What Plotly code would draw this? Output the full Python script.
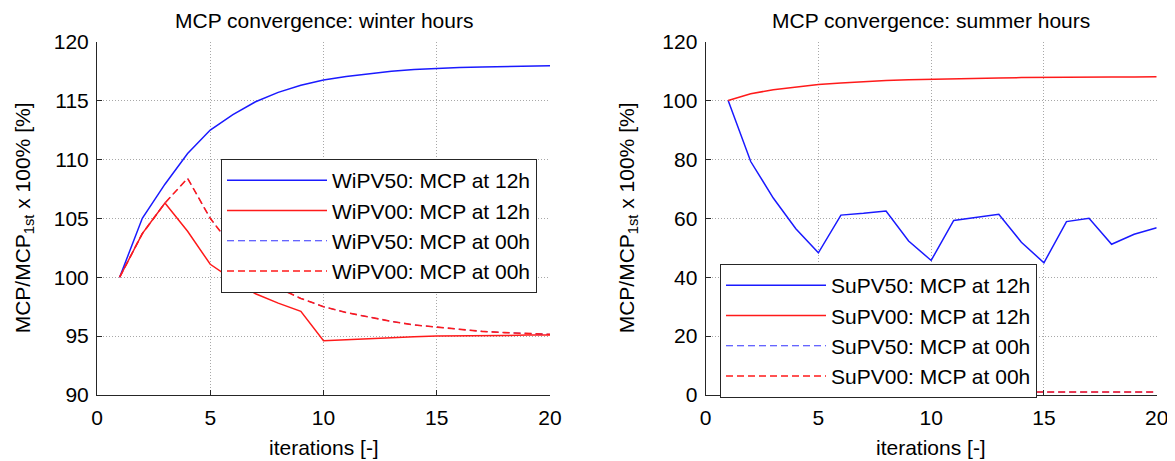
import plotly.graph_objects as go

# page body adds an 8px margin; figure is sized so the picture fits the window
OFF = 8
W, H = 1175 - OFF, 461 - OFF

iterations = list(range(1, 21))

# Winter hours
wi_pv50_12h = [100, 105.0, 107.9, 110.5, 112.5, 113.8, 114.9, 115.7, 116.3, 116.75,
               117.05, 117.3, 117.5, 117.65, 117.75, 117.8, 117.85, 117.9, 117.9, 117.95]
wi_pv00_12h = [100, 103.7, 106.3, 103.9, 101.1, 99.8, 98.6, 97.8, 97.1, 94.6,
               94.7, 94.8, 94.9, 94.95, 95.0, 95.0, 95.05, 95.05, 95.1, 95.1]
wi_pv50_00h = [100, 103.7, 106.3, 108.4, 105.0, 102.5, 100.5, 99.1, 98.2, 97.5,
               97.0, 96.6, 96.25, 95.95, 95.75, 95.55, 95.4, 95.3, 95.2, 95.15]
wi_pv00_00h = [100, 103.7, 106.3, 108.4, 105.0, 102.5, 100.5, 99.1, 98.2, 97.5,
               97.0, 96.6, 96.25, 95.95, 95.75, 95.55, 95.4, 95.3, 95.2, 95.15]

# Summer hours
su_pv50_12h = [100, 79.3, 66.9, 56.5, 48.3, 61.1, 61.7, 62.5, 52.3, 45.7,
               59.3, 60.3, 61.4, 51.9, 44.9, 58.9, 60.0, 51.2, 54.6, 56.8]
su_pv00_12h = [100, 102.3, 103.7, 104.7, 105.5, 106.0, 106.5, 106.8, 107.1, 107.3,
               107.5, 107.6, 107.7, 107.8, 107.9, 107.95, 108.0, 108.0, 108.05, 108.1]
su_pv50_00h = [1.0, 1.0, 1.0, 1.0, 1.0, 1.0, 1.0, 1.0, 1.0, 1.0,
               1.0, 1.0, 1.0, 1.0, 1.0, 1.0, 1.0, 1.0, 1.0, 1.0]
su_pv00_00h = [1.0, 1.0, 1.0, 1.0, 1.0, 1.0, 1.0, 1.0, 1.0, 1.0,
               1.0, 1.0, 1.0, 1.0, 1.0, 1.0, 1.0, 1.0, 1.0, 1.0]

titles = ["MCP convergence: winter hours", "MCP convergence: summer hours"]
x_title = "iterations [-]"
y_title = "MCP/MCP<sub>1st</sub> x 100% [%]"

BLUE = "#1a1aff"
RED = "#ff1a1a"
DASH = "7px,4px"
FONT = "Liberation Sans, Arial, sans-serif"
FS = 21

fig = go.Figure()

def add(x, y, name, color, dash, width, xa, ya, leg, grp):
    fig.add_trace(go.Scatter(
        x=x, y=y, mode="lines", name=name,
        line=dict(color=color, width=width, dash=dash),
        xaxis=xa, yaxis=ya, legend=leg, legendgroup=grp,
    ))

add(iterations, wi_pv50_12h, "WiPV50: MCP at 12h", BLUE, "solid", 1.5, "x", "y", "legend", "a1")
add(iterations, wi_pv00_12h, "WiPV00: MCP at 12h", RED, "solid", 1.5, "x", "y", "legend", "a2")
add(iterations, wi_pv50_00h, "WiPV50: MCP at 00h", BLUE, DASH, 0.9, "x", "y", "legend", "a3")
add(iterations, wi_pv00_00h, "WiPV00: MCP at 00h", RED, DASH, 1.6, "x", "y", "legend", "a4")

add(iterations, su_pv50_12h, "SuPV50: MCP at 12h", BLUE, "solid", 1.5, "x2", "y2", "legend2", "b1")
add(iterations, su_pv00_12h, "SuPV00: MCP at 12h", RED, "solid", 1.5, "x2", "y2", "legend2", "b2")
add(iterations, su_pv50_00h, "SuPV50: MCP at 00h", BLUE, DASH, 0.9, "x2", "y2", "legend2", "b3")
add(iterations, su_pv00_00h, "SuPV00: MCP at 00h", RED, DASH, 1.6, "x2", "y2", "legend2", "b4")

def px_x(p):
    return (p - OFF) / W

def px_y(p):
    return 1 - (p - OFF) / H

top, bot = 41.7, 395.0
L1, R1 = 97.0, 550.0
L2, R2 = 705.6, 1156.7

axis_common = dict(
    showline=True, linecolor="#262626", linewidth=1,
    ticks="inside", ticklen=5, tickcolor="#262626", tickwidth=1,
    showgrid=True, gridcolor="#a8a8a8", griddash="1px,2px", gridwidth=1,
    zeroline=False, mirror=False, automargin=False,
    tickfont=dict(family=FONT, size=FS, color="#000000"),
)

legend_common = dict(
    xanchor="right", yanchor="top",
    bgcolor="white", bordercolor="#262626", borderwidth=1,
    font=dict(family=FONT, size=21, color="#000000"),
    tracegroupgap=0, itemwidth=100,
)

fig.update_layout(
    width=W, height=H,
    margin=dict(l=0, r=0, t=0, b=0, pad=0, autoexpand=False),
    paper_bgcolor="white", plot_bgcolor="white",
    font=dict(family=FONT, size=FS, color="#000000"),
    xaxis=dict(domain=[px_x(L1), px_x(R1)], range=[0, 20], dtick=5, anchor="y",
               ticklabelstandoff=4, **axis_common),
    yaxis=dict(domain=[px_y(bot), px_y(top)], range=[90, 120], dtick=5, anchor="x",
               ticklabelstandoff=3, **axis_common),
    xaxis2=dict(domain=[px_x(L2), px_x(R2)], range=[0, 20], dtick=5, anchor="y2",
                ticklabelstandoff=4, **axis_common),
    yaxis2=dict(domain=[px_y(bot), px_y(top)], range=[0, 120], dtick=20, anchor="x2",
                ticklabelstandoff=3, **axis_common),
    legend=dict(x=px_x(537), y=px_y(159), **legend_common),
    legend2=dict(x=px_x(1037), y=px_y(264), **legend_common),
    showlegend=True,
)

annotations = []
for title, (l, r), yx in zip(titles, [(L1, R1), (L2, R2)], [24, 628]):
    cx = (l + r) / 2
    annotations.append(dict(text=title, x=px_x(cx), y=px_y(20), xref="paper", yref="paper",
                            xanchor="center", yanchor="middle", showarrow=False,
                            font=dict(family=FONT, size=FS, color="#000000")))
    annotations.append(dict(text=x_title, x=px_x(cx), y=px_y(447), xref="paper", yref="paper",
                            xanchor="center", yanchor="middle", showarrow=False,
                            font=dict(family=FONT, size=FS, color="#000000")))
    annotations.append(dict(text=y_title, x=px_x(yx), y=px_y((top + bot) / 2),
                            xref="paper", yref="paper", textangle=-90,
                            xanchor="center", yanchor="middle", showarrow=False,
                            font=dict(family=FONT, size=FS, color="#000000")))
fig.update_layout(annotations=annotations)

fig.write_html("out.html")
